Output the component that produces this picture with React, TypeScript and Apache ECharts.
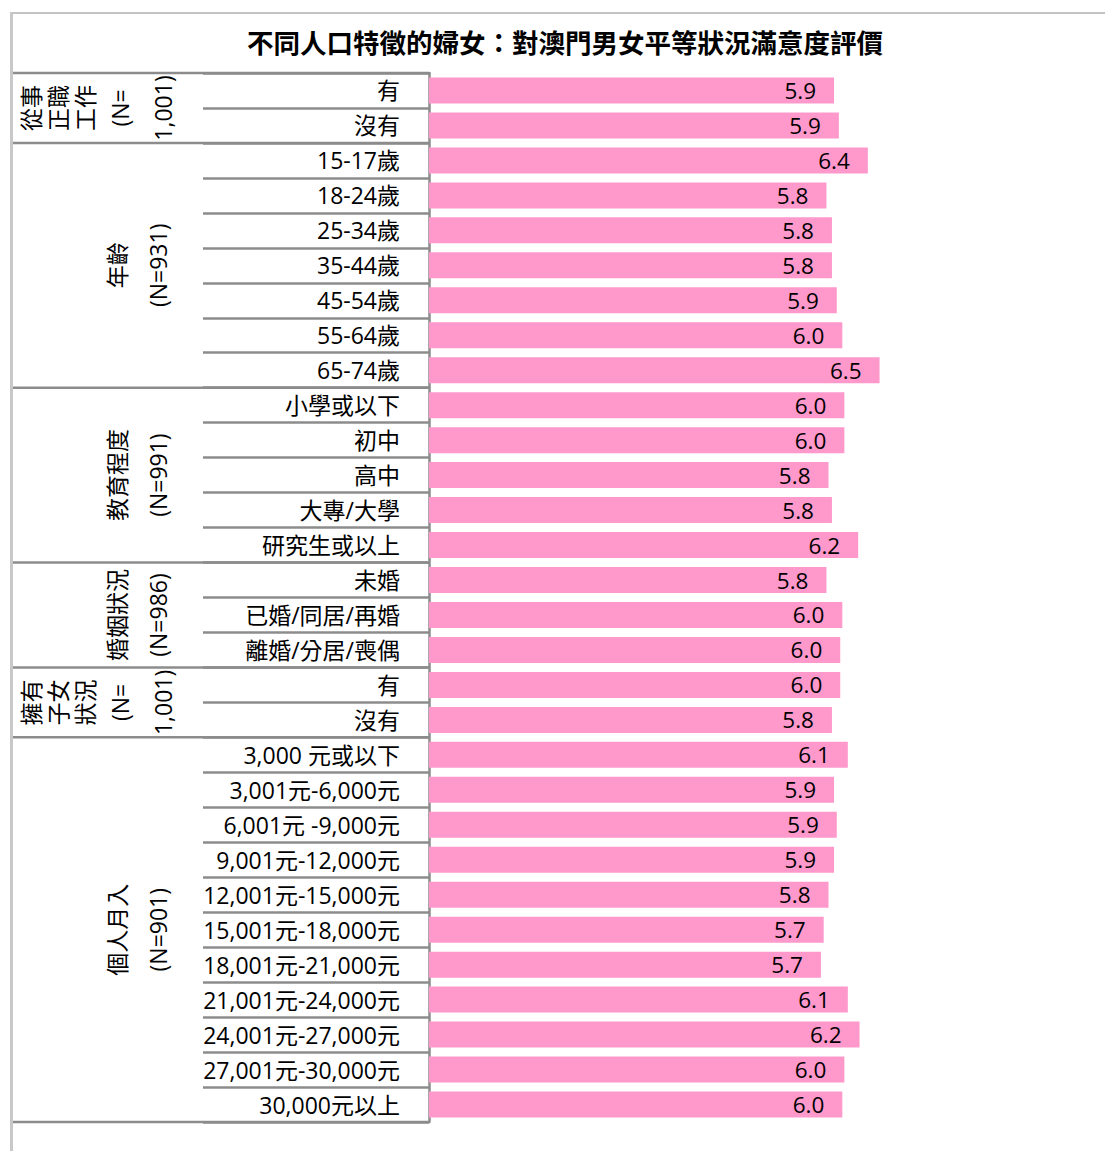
import React, { useEffect, useRef } from "react";
import * as echarts from "echarts";

const TITLE = "不同人口特徵的婦女：對澳門男女平等狀況滿意度評價";

const categories = [
  "有", "沒有",
  "15-17歲", "18-24歲", "25-34歲", "35-44歲", "45-54歲", "55-64歲", "65-74歲",
  "小學或以下", "初中", "高中", "大專/大學", "研究生或以上",
  "未婚", "已婚/同居/再婚", "離婚/分居/喪偶",
  "有", "沒有",
  "3,000 元或以下", "3,001元-6,000元", "6,001元 -9,000元", "9,001元-12,000元",
  "12,001元-15,000元", "15,001元-18,000元", "18,001元-21,000元", "21,001元-24,000元",
  "24,001元-27,000元", "27,001元-30,000元", "30,000元以上",
];

const values = [
  5.87, 5.94,
  6.36, 5.76, 5.84, 5.84, 5.91, 5.99, 6.53,
  6.02, 6.02, 5.79, 5.84, 6.22,
  5.76, 5.99, 5.96,
  5.96, 5.84,
  6.07, 5.87, 5.91, 5.87, 5.79, 5.72, 5.68, 6.07, 6.24, 6.02, 5.99,
];

const groupLabels = [
  ["從事", "正職", "工作", "(N=", "1,001)"],
  ["年齡", "(N=931)"],
  ["教育程度", "(N=991)"],
  ["婚姻狀況", "(N=986)"],
  ["擁有", "子女", "狀況", "(N=", "1,001)"],
  ["個人月入", "(N=901)"],
];
const groupSizes = [2, 7, 5, 3, 2, 11];

const W = 1105;
const H = 1151;
const GRID_TOP = 73;
const GRID_BOTTOM_Y = 1122;
const GRID_LEFT = 429;
const FONT = '"Open Sans", "Noto Sans CJK TC", sans-serif';
const CJK_FONT = '"Noto Sans CJK TC", "Noto Sans", sans-serif';

export default function App() {
  const ref = useRef<HTMLDivElement>(null);

  useEffect(() => {
    const chart = echarts.init(ref.current as HTMLDivElement, undefined, { renderer: "svg" });
    const n = categories.length;
    const rowH = (GRID_BOTTOM_Y - GRID_TOP) / n;
    const lineColor = "#8c8c8c";

    const graphics: any[] = [];
    graphics.push({
      type: "line",
      shape: { x1: 12, y1: 13, x2: W, y2: 13 },
      style: { stroke: "#c4c4c4", lineWidth: 2 },
    });
    graphics.push({
      type: "line",
      shape: { x1: 11.5, y1: 12, x2: 11.5, y2: H },
      style: { stroke: "#c8c8c8", lineWidth: 3 },
    });

    let cum = 0;
    const bounds = [0];
    groupSizes.forEach((s) => {
      cum += s;
      bounds.push(cum);
    });
    bounds.forEach((b) => {
      const y = GRID_TOP + b * rowH;
      graphics.push({
        type: "line",
        shape: { x1: 13, y1: y, x2: GRID_LEFT, y2: y },
        style: { stroke: lineColor, lineWidth: 2.5 },
      });
    });

    groupLabels.forEach((lines, gi) => {
      const cy = GRID_TOP + (bounds[gi] + groupSizes[gi] / 2) * rowH;
      const xs = lines.length === 2 ? [117, 158] : [31, 58, 85, 120, 163];
      lines.forEach((t, li) => {
        graphics.push({
          type: "text",
          x: xs[li],
          y: cy,
          rotation: Math.PI / 2,
          style: {
            text: t,
            align: "center",
            verticalAlign: "middle",
            fontSize: 23,
            fontFamily: FONT,
            fill: "#000",
          },
        });
      });
    });

    chart.setOption({
      animation: false,
      title: {
        text: TITLE,
        left: 560,
        top: 23,
        textAlign: "center",
        textStyle: { fontSize: 26.5, fontWeight: "bold", fontFamily: CJK_FONT, color: "#000" },
      },
      grid: { left: GRID_LEFT, top: GRID_TOP, bottom: H - GRID_BOTTOM_Y, right: W - GRID_LEFT - 9 * 69 },
      xAxis: { type: "value", min: 0, max: 9, show: false },
      yAxis: {
        type: "category",
        inverse: true,
        data: categories,
        axisLine: { show: true, lineStyle: { color: lineColor, width: 2.5 } },
        axisTick: { show: true, length: 226, lineStyle: { color: lineColor, width: 2.5 } },
        axisLabel: { margin: 29, fontSize: 23, color: "#000", fontFamily: FONT },
        splitLine: { show: false },
      },
      series: [
        {
          type: "bar",
          data: values,
          barWidth: 26,
          itemStyle: { color: "#ff99cc" },
          label: {
            show: true,
            position: "insideRight",
            distance: 18,
            fontSize: 22.5,
            color: "#000",
            fontFamily: FONT,
            formatter: (p: any) => (Math.round(p.value * 10) / 10).toFixed(1),
          },
        },
      ],
      graphic: graphics,
    });

    return () => chart.dispose();
  }, []);

  return (
    <div
      ref={ref}
      style={{ position: "absolute", left: 0, top: 0, width: W, height: H }}
    />
  );
}
